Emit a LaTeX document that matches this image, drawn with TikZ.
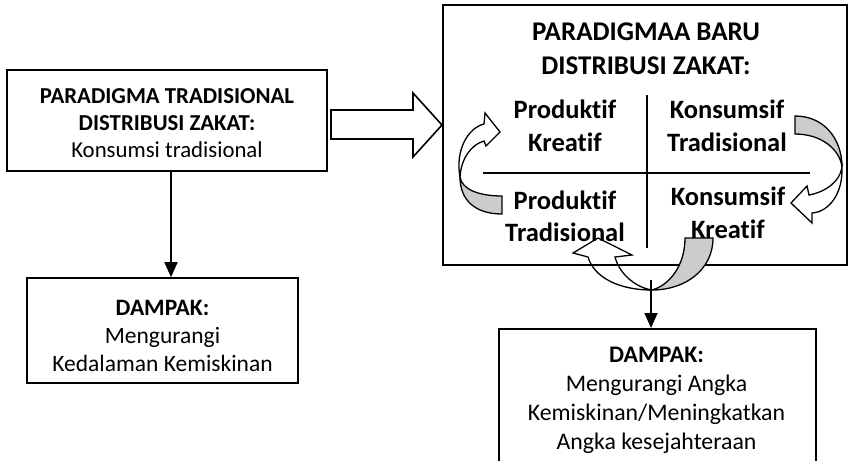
\documentclass[tikz,border=0pt]{standalone}
\usepackage{fontspec}
\setmainfont{Carlito}[Ligatures={NoCommon}]
\usetikzlibrary{arrows.meta}
\definecolor{backgray}{RGB}{204,204,204}
\begin{document}
\begin{tikzpicture}[x=1pt,y=-1pt,line join=miter,
  box/.style={draw,line width=1.6pt,inner sep=0pt},
  txt/.style={inner sep=0pt,align=center},
  conn/.style={line width=1.6pt,-{Triangle[length=15pt,width=13pt]}},
  crossline/.style={line width=1.4pt},
  curvw/.style={draw,line width=1.3pt},
  curvg/.style={draw,line width=1.3pt,fill=backgray},
  lefttop/.style={font=\fontsize{22.8}{27}\selectfont},
  leftbot/.style={font=\fontsize{23.5}{28}\selectfont},
  big/.style={font=\fontsize{26.5}{32.5}\selectfont\bfseries},
  titlef/.style={font=\fontsize{27}{33.5}\selectfont\bfseries},
  mid/.style={font=\fontsize{23.8}{29}\selectfont}]
\useasboundingbox (0,0) rectangle (850,460);
\clip (0,0) rectangle (850,460);

% left column
\node[box,minimum width=320pt,minimum height=101pt] (trad) at (167,120.5) {};
\node[txt,lefttop] (tradtxt) at (167,123.5)
  {\textbf{PARADIGMA TRADISIONAL}\\\textbf{DISTRIBUSI ZAKAT:}\\Konsumsi tradisional};
\node[box,minimum width=271pt,minimum height=105pt] (dampak1) at (162.5,330.5) {};
\node[txt,leftbot] (d1txt) at (162.5,335.5)
  {\textbf{DAMPAK:}\\Mengurangi\\Kedalaman Kemiskinan};
\draw[conn] (trad.south -| 171,0) -- (dampak1.north -| 171,0);

% block arrow
\coordinate (ba1) at (331,110);
\draw[line width=1.6pt] (ba1) -- (413,110) -- (413,93) -- (442,125) -- (413,157) -- (413,139) -- (331,139) -- cycle;

% new paradigm box
\node[box,minimum width=404pt,minimum height=260pt] (baru) at (645,135) {};
\node[txt,titlef] (title) at (646,48.5) {PARADIGMAA BARU\\DISTRIBUSI ZAKAT:};
\coordinate (vt) at (647,95);
\coordinate (vb) at (647,248);
\coordinate (hl) at (483,173);
\coordinate (hr) at (810,173);
\draw[crossline] (vt) -- (vb);
\draw[crossline] (hl) -- (hr);
\node[txt,big] (pk) at (565,126) {Produktif\\Kreatif};
\node[txt,big] (kt) at (727,126) {Konsumsif\\Tradisional};
\node[txt,big] (pt) at (565,216.5) {Produktif\\Tradisional};
\node[txt,big] (kk) at (728,213) {Konsumsif\\Kreatif};

% left curved arrow
\path[curvg] (502,196) -- (502,214) .. controls (475,214) and (460,200) .. (460,177)
  .. controls (462,190) and (480,196) .. (502,196) -- cycle;
\path[curvw] (460,177) .. controls (455,150) and (468,128) .. (484,124)
  -- (485,113) -- (500,132) -- (486,146) -- (484,141)
  .. controls (470,145) and (461,160) .. (460,177) -- cycle;

% right curved arrow
\path[curvg] (795,116) .. controls (825,116) and (842,140) .. (842,167)
  .. controls (840,150) and (822,134) .. (795,134) -- cycle;
\path[curvw] (842,167) .. controls (843,195) and (828,212) .. (812,213)
  -- (812,223) -- (791,203) -- (807,186) -- (809,195)
  .. controls (825,192) and (840,182) .. (842,167) -- cycle;

% bottom curved arrow
\path[curvg] (685,238) -- (713,238) .. controls (713,270) and (685,290) .. (652,290)
  .. controls (670,285) and (685,265) .. (685,238) -- cycle;
\path[curvw] (652,290) .. controls (618,290) and (594,277) .. (588,257)
  -- (573,253) -- (598,238) -- (632,255) -- (615,257)
  .. controls (620,276) and (638,288) .. (652,290) -- cycle;

% bottom right
\node[box,minimum width=317pt,minimum height=150pt,anchor=north west] (dampak2) at (498,328) {};
\node[txt,mid] (d2txt) at (656.5,400) {\textbf{DAMPAK:}\\Mengurangi Angka\\Kemiskinan/Meningkatkan\\Angka kesejahteraan};
\coordinate (bstart) at (651,280);
\draw[conn] (bstart) -- (dampak2.north -| bstart);
\end{tikzpicture}
\end{document}
